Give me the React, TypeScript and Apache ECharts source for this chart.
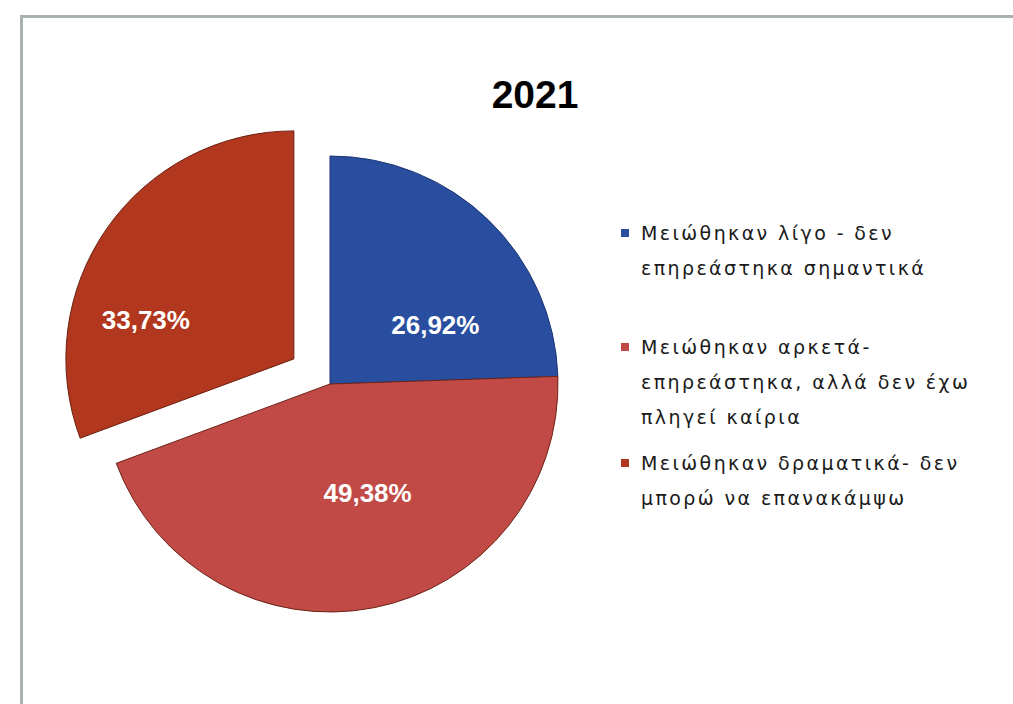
import React, { useEffect, useRef } from "react";
import * as echarts from "echarts";

const titleText = "2021";
const categories = [
  "Μειώθηκαν λίγο - δεν\nεπηρεάστηκα σημαντικά",
  "Μειώθηκαν αρκετά-\nεπηρεάστηκα, αλλά δεν έχω\nπληγεί καίρια",
  "Μειώθηκαν δραματικά- δεν\nμπορώ να επανακάμψω",
];
const values = [26.92, 49.38, 33.73];
const colors = ["#2a4e9f", "#c24a46", "#b1371f"];
const borderColors = ["#1d3576", "#6b2418", "#6b2010"];
const explodedIndex = 2;

// per-slice label nudges (style)
const labelNudges = [
  [24, 25],
  [15, -6],
  [-52, 28],
];
const legendIconCenters = [233, 347, 463];
const legendLineHeight = 35;

export default function App() {
  const ref = useRef<HTMLDivElement>(null);
  useEffect(() => {
    if (!ref.current) return;
    const chart = echarts.init(ref.current, undefined, { renderer: "svg" });
    const data = categories.map((name, i) => ({
      name,
      value: values[i],
      selected: i === explodedIndex,
      itemStyle: { color: colors[i], borderColor: borderColors[i], borderWidth: 1 },
    }));
    const legends = categories.map((name, i) => {
      const n = name.split("\n").length;
      const h = (n - 1) * legendLineHeight + 8;
      return {
        data: [name],
        orient: "vertical",
        left: 621,
        top: legendIconCenters[i] - legendLineHeight / 2,
        padding: 0,
        itemWidth: 8,
        itemHeight: h,
        icon: `path://M0,0h8v8h-8zM4,${h}L4,${h}`,
        itemStyle: { borderWidth: 0 },
        selectedMode: false,
        textStyle: {
          fontFamily: "DejaVu Sans",
          fontSize: 19,
          color: "#1a1a1a",
          lineHeight: legendLineHeight,
          padding: [0, 0, 0, 7],
        },
      };
    });
    chart.setOption({
      animation: false,
      backgroundColor: "#ffffff",
      title: {
        text: titleText,
        left: 535,
        top: 75,
        textAlign: "center",
        padding: 0,
        textStyle: {
          fontFamily: "Liberation Sans",
          fontWeight: "bold",
          fontSize: 39,
          color: "#000000",
        },
      },
      legend: legends,
      graphic: [
        {
          type: "rect",
          shape: { x: 21.5, y: 16.5, width: 1200, height: 900 },
          style: { fill: "none", stroke: "#a9b1b1", lineWidth: 3 },
          silent: true,
        },
      ],
      series: [
        {
          type: "pie",
          center: [330, 384],
          radius: 228,
          startAngle: 90,
          clockwise: true,
          selectedMode: "single",
          selectedOffset: 44,
          avoidLabelOverlap: false,
          label: {
            show: true,
            position: "inside",
            formatter: (p: any) => p.value.toFixed(2).replace(".", ",") + "%",
            color: "#ffffff",
            fontFamily: "Liberation Sans",
            fontWeight: "bold",
            fontSize: 26,
          },
          labelLine: { show: false },
          labelLayout: (p: any) => ({
            dx: labelNudges[p.dataIndex][0],
            dy: labelNudges[p.dataIndex][1],
          }),
          emphasis: { disabled: true },
          data,
        },
      ],
    });
    return () => chart.dispose();
  }, []);
  return (
    <>
      <style>{`text[style*="DejaVu"], text[font-family*="DejaVu"] { letter-spacing: 2.4px; }`}</style>
      <div
        ref={ref}
        style={{ position: "absolute", left: 0, top: 0, width: 1013, height: 704 }}
      />
    </>
  );
}
